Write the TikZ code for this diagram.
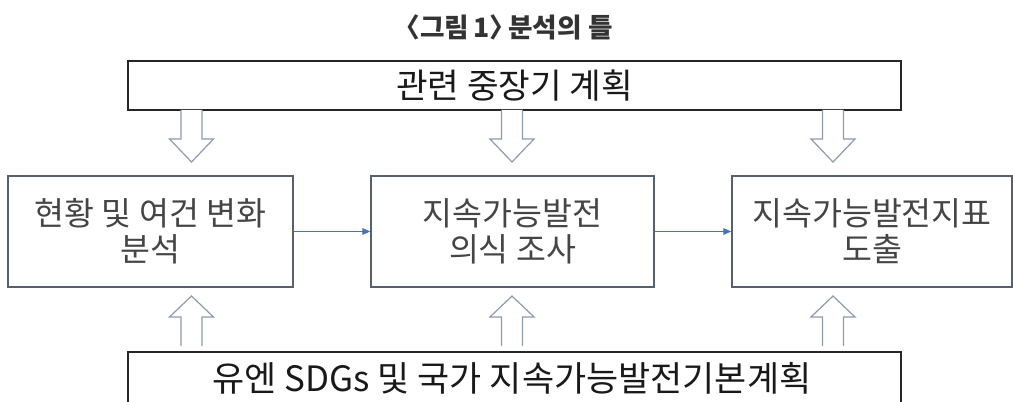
\documentclass[tikz,border=0pt]{standalone}
\usepackage{fontspec}
\setmainfont{Noto Sans CJK KR}
\usetikzlibrary{arrows.meta,calc}
\definecolor{boxline}{HTML}{56606E}
\definecolor{blkline}{HTML}{8E9BAD}
\definecolor{txtgray}{HTML}{454545}
\definecolor{flowblue}{HTML}{4472C4}
\tikzset{
  bigbox/.style={draw=black!85, line width=1.4pt, fill=white, inner sep=0pt,
    minimum width=579.75pt},
  bigtext/.style={text=black!90, inner sep=0pt},
  stagebox/.style={draw=boxline, line width=1.1pt, fill=white, inner sep=0pt,
    minimum height=83.25pt, align=center, text=txtgray,
    font=\fontsize{24.4pt}{27pt}\selectfont},
  blkarrow/.style={draw=blkline, line width=0.9pt, fill=white, line join=miter},
  flow/.style={draw=flowblue, line width=0.8pt, -{Triangle[length=6pt,width=5pt]}},
  titletext/.style={font=\fontsize{20pt}{24pt}\selectfont\bfseries, text=black!80, inner sep=0pt}
}
% block arrow down/up: center x, base y, tip y (px units)
\newcommand\blkdown[3]{%
  \draw[blkarrow] (#1-10.5,#2) -- (#1-10.5,#2+29) -- (#1-22,#2+29) -- (#1,#3)
    -- (#1+22,#2+29) -- (#1+10.5,#2+29) -- (#1+10.5,#2);}
\newcommand\blkup[3]{%
  \draw[blkarrow] (#1-10.5,#2) -- (#1-10.5,#2-29) -- (#1-22,#2-29) -- (#1,#3)
    -- (#1+22,#2-29) -- (#1+10.5,#2-29) -- (#1+10.5,#2);}
\begin{document}
\begin{tikzpicture}[x=0.75pt,y=-0.75pt]
\useasboundingbox[fill=white] (0,0) rectangle (1013,402);
% title
\node[titletext] (title) at (503,27) {〈그림\,1〉\kern-0.3em 분석의 틀};
% top box
\node[bigbox, minimum height=36.75pt] (top) at (514.5,85.5) {};
\node[bigtext, font=\fontsize{25.8pt}{28pt}\selectfont] (toptext) at (514.5,86) {관련 중장기 계획};
% stage boxes
\node[stagebox, minimum width=213.75pt] (s1) at (150.5,231.5) {현황 및 여건 변화\\분석};
\node[stagebox, minimum width=212.25pt] (s2) at (512.5,231.5) {지속가능발전\\의식 조사};
\node[stagebox, minimum width=210pt] (s3) at (872,231.5) {지속가능발전지표\\도출};
% bottom box (cut by page edge)
\node[bigbox, minimum height=51pt] (bottom) at (514.5,386) {};
\node[bigtext, font=\fontsize{26.2pt}{28pt}\selectfont] (bottomtext) at (512,378) {유엔 SDGs 및 국가 지속가능발전기본계획};
% flow arrows
\draw[flow] (s1.east) -- (s2.west);
\draw[flow] (s2.east) -- (s3.west);
% block arrows
\blkdown{191.5}{110}{162}
\blkdown{512}{110}{162}
\blkdown{833}{110}{162}
\blkup{191.5}{346}{296}
\blkup{512}{346}{296}
\blkup{833}{346}{296}
\end{tikzpicture}
\end{document}
